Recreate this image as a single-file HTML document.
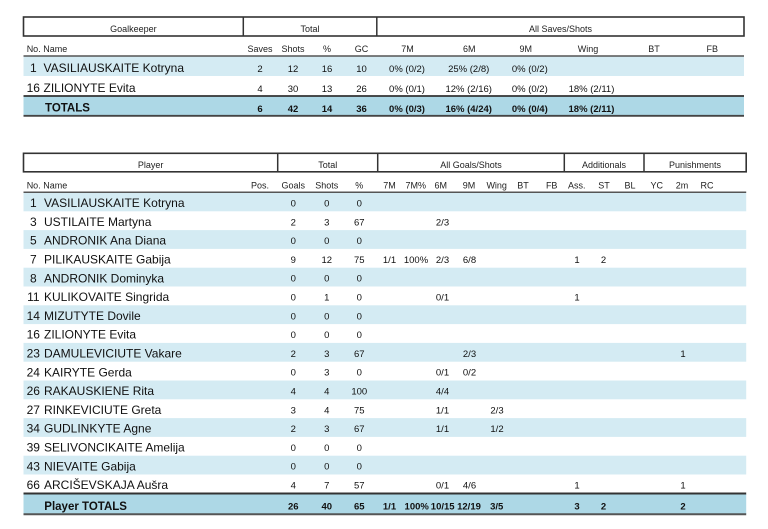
<!DOCTYPE html>
<html><head><meta charset="utf-8"><style>
html,body{margin:0;padding:0;background:#fff;}
svg{display:block;}
text{font-family:"Liberation Sans",Arial,sans-serif;fill:#111;}
.h{font-size:9px;fill:#222;}
.n{font-size:12px;}
.d{font-size:9.5px;text-anchor:middle;}
.c{text-anchor:middle;}
.b{font-weight:bold;}
</style></head><body>
<svg width="768" height="529" viewBox="0 0 768 529" xmlns="http://www.w3.org/2000/svg">
<!-- ===== Goalkeeper table ===== -->
<rect x="23.5" y="17" width="720.5" height="19" fill="#fff" stroke="#333" stroke-width="1.6"/>
<line x1="243.3" y1="17" x2="243.3" y2="36" stroke="#333" stroke-width="1.5"/>
<line x1="376.8" y1="17" x2="376.8" y2="36" stroke="#333" stroke-width="1.5"/>
<text class="h c" x="133.4" y="32">Goalkeeper</text>
<text class="h c" x="310" y="32">Total</text>
<text class="h c" x="560.5" y="32">All Saves/Shots</text>

<text class="h" x="26.7" y="52">No. Name</text>
<g class="h c">
<text class="h c" x="260" y="52">Saves</text>
<text class="h c" x="293" y="52">Shots</text>
<text class="h c" x="327" y="52">%</text>
<text class="h c" x="361.5" y="52">GC</text>
<text class="h c" x="407.5" y="52">7M</text>
<text class="h c" x="469.3" y="52">6M</text>
<text class="h c" x="525.7" y="52">9M</text>
<text class="h c" x="588" y="52">Wing</text>
<text class="h c" x="654" y="52">BT</text>
<text class="h c" x="712.3" y="52">FB</text>
</g>
<rect x="23.5" y="56.5" width="720.5" height="19.5" fill="#d4ebf3"/>
<line x1="23.5" y1="56" x2="744" y2="56" stroke="#555" stroke-width="1.5"/>
<rect x="23.5" y="96.5" width="720.5" height="19" fill="#add8e6"/>
<line x1="23.5" y1="96" x2="744" y2="96" stroke="#333" stroke-width="1.8"/>
<line x1="23.5" y1="115.8" x2="744" y2="115.8" stroke="#444" stroke-width="1.8"/>

<text class="n c" x="33.3" y="72">1</text><text class="n" x="43.5" y="72">VASILIAUSKAITE Kotryna</text>
<text class="d" x="260" y="72">2</text><text class="d" x="293" y="72">12</text><text class="d" x="327" y="72">16</text><text class="d" x="361.5" y="72">10</text>
<text class="d" x="407" y="72">0% (0/2)</text><text class="d" x="468.7" y="72">25% (2/8)</text><text class="d" x="529.8" y="72">0% (0/2)</text>

<text class="n c" x="33.3" y="92">16</text><text class="n" x="43.5" y="92">ZILIONYTE Evita</text>
<text class="d" x="260" y="92">4</text><text class="d" x="293" y="92">30</text><text class="d" x="327" y="92">13</text><text class="d" x="361.5" y="92">26</text>
<text class="d" x="407" y="92">0% (0/1)</text><text class="d" x="468.7" y="92">12% (2/16)</text><text class="d" x="529.8" y="92">0% (0/2)</text><text class="d" x="591.5" y="92">18% (2/11)</text>

<text class="n b" x="45" y="111.5" style="font-size:11.5px">TOTALS</text>
<g class="b">
<text class="d b" x="260" y="112">6</text><text class="d b" x="293" y="112">42</text><text class="d b" x="327" y="112">14</text><text class="d b" x="361.5" y="112">36</text>
<text class="d b" x="407" y="112">0% (0/3)</text><text class="d b" x="468.7" y="112">16% (4/24)</text><text class="d b" x="529.8" y="112">0% (0/4)</text><text class="d b" x="591.5" y="112">18% (2/11)</text>
</g>

<!-- ===== Player table ===== -->
<rect x="23.5" y="153.3" width="722.7" height="18.5" fill="#fff" stroke="#333" stroke-width="1.6"/>
<line x1="277.7" y1="153.3" x2="277.7" y2="171.8" stroke="#333" stroke-width="1.5"/>
<line x1="377.7" y1="153.3" x2="377.7" y2="171.8" stroke="#333" stroke-width="1.5"/>
<line x1="564.3" y1="153.3" x2="564.3" y2="171.8" stroke="#333" stroke-width="1.5"/>
<line x1="644" y1="153.3" x2="644" y2="171.8" stroke="#333" stroke-width="1.5"/>
<text class="h c" x="150.6" y="168">Player</text>
<text class="h c" x="327.7" y="168">Total</text>
<text class="h c" x="471" y="168">All Goals/Shots</text>
<text class="h c" x="604" y="168">Additionals</text>
<text class="h c" x="695" y="168">Punishments</text>

<text class="h" x="26.7" y="188.5">No. Name</text>
<text class="h c" x="260" y="188.5">Pos.</text>
<text class="h c" x="293.3" y="188.5">Goals</text>
<text class="h c" x="326.8" y="188.5">Shots</text>
<text class="h c" x="359.3" y="188.5">%</text>
<text class="h c" x="389.5" y="188.5">7M</text>
<text class="h c" x="415.7" y="188.5">7M%</text>
<text class="h c" x="440.7" y="188.5">6M</text>
<text class="h c" x="469" y="188.5">9M</text>
<text class="h c" x="496.7" y="188.5">Wing</text>
<text class="h c" x="523" y="188.5">BT</text>
<text class="h c" x="551.7" y="188.5">FB</text>
<text class="h c" x="576.7" y="188.5">Ass.</text>
<text class="h c" x="604" y="188.5">ST</text>
<text class="h c" x="630" y="188.5">BL</text>
<text class="h c" x="656.7" y="188.5">YC</text>
<text class="h c" x="682" y="188.5">2m</text>
<text class="h c" x="707" y="188.5">RC</text>

<g fill="#d4ebf3">
<rect x="23.5" y="192.5" width="722.7" height="18.8"/>
<rect x="23.5" y="230.1" width="722.7" height="18.8"/>
<rect x="23.5" y="267.7" width="722.7" height="18.8"/>
<rect x="23.5" y="305.3" width="722.7" height="18.8"/>
<rect x="23.5" y="342.9" width="722.7" height="18.8"/>
<rect x="23.5" y="380.5" width="722.7" height="18.8"/>
<rect x="23.5" y="418.1" width="722.7" height="18.8"/>
<rect x="23.5" y="455.7" width="722.7" height="18.8"/>
</g>
<line x1="23.5" y1="192.3" x2="746.2" y2="192.3" stroke="#555" stroke-width="1.5"/>

<!-- rows -->
<text class="n c" x="33.3" y="207.1">1</text><text class="n" x="44" y="207.1">VASILIAUSKAITE Kotryna</text>
<text class="d" x="293.3" y="206.5">0</text><text class="d" x="326.8" y="206.5">0</text><text class="d" x="359.3" y="206.5">0</text>

<text class="n c" x="33.3" y="225.9">3</text><text class="n" x="44" y="225.9">USTILAITE Martyna</text>
<text class="d" x="293.3" y="225.3">2</text><text class="d" x="326.8" y="225.3">3</text><text class="d" x="359.3" y="225.3">67</text>
<text class="d" x="442.5" y="225.3">2/3</text>

<text class="n c" x="33.3" y="244.7">5</text><text class="n" x="44" y="244.7">ANDRONIK Ana Diana</text>
<text class="d" x="293.3" y="244.1">0</text><text class="d" x="326.8" y="244.1">0</text><text class="d" x="359.3" y="244.1">0</text>

<text class="n c" x="33.3" y="263.5">7</text><text class="n" x="44" y="263.5">PILIKAUSKAITE Gabija</text>
<text class="d" x="293.3" y="262.9">9</text><text class="d" x="326.8" y="262.9">12</text><text class="d" x="359.3" y="262.9">75</text>
<text class="d" x="389.5" y="262.9">1/1</text><text class="d" x="416" y="262.9">100%</text><text class="d" x="442.5" y="262.9">2/3</text><text class="d" x="469.5" y="262.9">6/8</text>
<text class="d" x="577" y="262.9">1</text><text class="d" x="603.5" y="262.9">2</text>

<text class="n c" x="33.3" y="282.3">8</text><text class="n" x="44" y="282.3">ANDRONIK Dominyka</text>
<text class="d" x="293.3" y="281.7">0</text><text class="d" x="326.8" y="281.7">0</text><text class="d" x="359.3" y="281.7">0</text>

<text class="n c" x="33.3" y="301.1">11</text><text class="n" x="44" y="301.1">KULIKOVAITE Singrida</text>
<text class="d" x="293.3" y="300.5">0</text><text class="d" x="326.8" y="300.5">1</text><text class="d" x="359.3" y="300.5">0</text>
<text class="d" x="442.5" y="300.5">0/1</text><text class="d" x="577" y="300.5">1</text>

<text class="n c" x="33.3" y="319.9">14</text><text class="n" x="44" y="319.9">MIZUTYTE Dovile</text>
<text class="d" x="293.3" y="319.3">0</text><text class="d" x="326.8" y="319.3">0</text><text class="d" x="359.3" y="319.3">0</text>

<text class="n c" x="33.3" y="338.7">16</text><text class="n" x="44" y="338.7">ZILIONYTE Evita</text>
<text class="d" x="293.3" y="338.1">0</text><text class="d" x="326.8" y="338.1">0</text><text class="d" x="359.3" y="338.1">0</text>

<text class="n c" x="33.3" y="357.5">23</text><text class="n" x="44" y="357.5">DAMULEVICIUTE Vakare</text>
<text class="d" x="293.3" y="356.9">2</text><text class="d" x="326.8" y="356.9">3</text><text class="d" x="359.3" y="356.9">67</text>
<text class="d" x="469.5" y="356.9">2/3</text><text class="d" x="683" y="356.9">1</text>

<text class="n c" x="33.3" y="376.3">24</text><text class="n" x="44" y="376.3">KAIRYTE Gerda</text>
<text class="d" x="293.3" y="375.7">0</text><text class="d" x="326.8" y="375.7">3</text><text class="d" x="359.3" y="375.7">0</text>
<text class="d" x="442.5" y="375.7">0/1</text><text class="d" x="469.5" y="375.7">0/2</text>

<text class="n c" x="33.3" y="395.1">26</text><text class="n" x="44" y="395.1">RAKAUSKIENE Rita</text>
<text class="d" x="293.3" y="394.5">4</text><text class="d" x="326.8" y="394.5">4</text><text class="d" x="359.3" y="394.5">100</text>
<text class="d" x="442.5" y="394.5">4/4</text>

<text class="n c" x="33.3" y="413.9">27</text><text class="n" x="44" y="413.9">RINKEVICIUTE Greta</text>
<text class="d" x="293.3" y="413.3">3</text><text class="d" x="326.8" y="413.3">4</text><text class="d" x="359.3" y="413.3">75</text>
<text class="d" x="442.5" y="413.3">1/1</text><text class="d" x="497" y="413.3">2/3</text>

<text class="n c" x="33.3" y="432.7">34</text><text class="n" x="44" y="432.7">GUDLINKYTE Agne</text>
<text class="d" x="293.3" y="432.1">2</text><text class="d" x="326.8" y="432.1">3</text><text class="d" x="359.3" y="432.1">67</text>
<text class="d" x="442.5" y="432.1">1/1</text><text class="d" x="497" y="432.1">1/2</text>

<text class="n c" x="33.3" y="451.5">39</text><text class="n" x="44" y="451.5">SELIVONCIKAITE Amelija</text>
<text class="d" x="293.3" y="450.9">0</text><text class="d" x="326.8" y="450.9">0</text><text class="d" x="359.3" y="450.9">0</text>

<text class="n c" x="33.3" y="470.3">43</text><text class="n" x="44" y="470.3">NIEVAITE Gabija</text>
<text class="d" x="293.3" y="469.7">0</text><text class="d" x="326.8" y="469.7">0</text><text class="d" x="359.3" y="469.7">0</text>

<text class="n c" x="33.3" y="489.1">66</text><text class="n" x="44" y="489.1">ARCIŠEVSKAJA Aušra</text>
<text class="d" x="293.3" y="488.5">4</text><text class="d" x="326.8" y="488.5">7</text><text class="d" x="359.3" y="488.5">57</text>
<text class="d" x="442.5" y="488.5">0/1</text><text class="d" x="469.5" y="488.5">4/6</text><text class="d" x="577" y="488.5">1</text><text class="d" x="683" y="488.5">1</text>

<!-- totals -->
<rect x="23.5" y="494" width="722.7" height="20" fill="#add8e6"/>
<line x1="23.5" y1="493.5" x2="746.2" y2="493.5" stroke="#333" stroke-width="2"/>
<line x1="23.5" y1="514.3" x2="746.2" y2="514.3" stroke="#555" stroke-width="2"/>
<text class="n b" x="44.3" y="510" style="font-size:11.5px">Player TOTALS</text>
<text class="d b" x="293.3" y="509.5">26</text><text class="d b" x="326.8" y="509.5">40</text><text class="d b" x="359.3" y="509.5">65</text>
<text class="d b" x="389.5" y="509.5">1/1</text><text class="d b" x="416.7" y="509.5">100%</text><text class="d b" x="442.7" y="509.5">10/15</text><text class="d b" x="469" y="509.5">12/19</text><text class="d b" x="496.7" y="509.5">3/5</text>
<text class="d b" x="577" y="509.5">3</text><text class="d b" x="603.5" y="509.5">2</text><text class="d b" x="683" y="509.5">2</text>
</svg>
</body></html>
